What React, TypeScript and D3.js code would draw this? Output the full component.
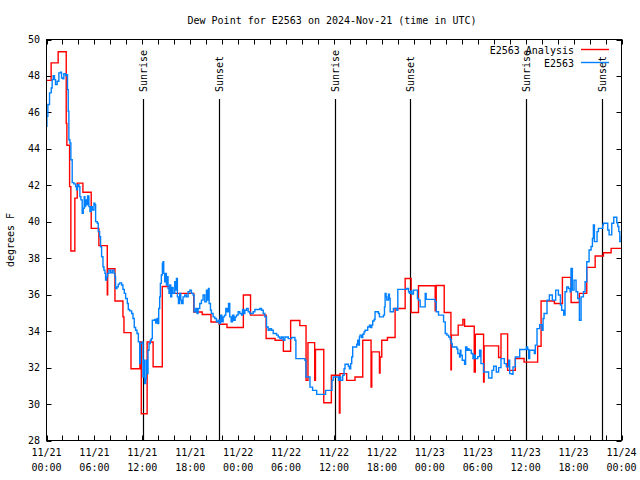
import React from "react";
import * as d3 from "d3";

const titleText = "Dew Point for E2563 on 2024-Nov-21 (time in UTC)";
const yAxisLabel = "degrees F";
const seriesNames = ["E2563 Analysis", "E2563"];
const seriesColors = ["#ff0000", "#0080ff"];

// hours since 2024-11-21 00:00 UTC, dew point in °F
const analysis: [number, number][] = [
  [0, 47.76], [0.58, 48.72], [1.46, 49.33], [2.47, 45.4], [2.55, 44.2], [2.89, 41.93], [3.05, 38.4],
  [3.55, 41.3], [3.85, 42.12], [4.56, 41.62], [5.6, 39.64], [6.56, 38.69], [7.61, 36.0], [7.66, 37.42],
  [8.57, 35.65], [9.57, 34.78], [9.7, 33.92], [10.58, 31.94], [11.7, 33.4], [11.87, 29.47], [12.6, 33.4],
  [13.35, 32.05], [14.5, 36.45], [15.4, 36.07], [18.44, 35.05], [19.5, 34.91], [20.6, 34.5], [21.62, 34.38],
  [22.6, 34.2], [24.65, 35.98], [25.55, 34.88], [27.5, 33.6], [28.62, 33.5], [29.66, 32.9], [30.57, 34.58],
  [31.72, 34.3], [32.5, 31.3], [32.74, 33.37], [33.58, 31.3], [33.68, 32.99], [34.72, 30.07], [35.67, 31.58],
  [36.67, 29.5], [36.75, 31.67], [37.59, 31.3], [38.63, 31.48], [39.6, 33.5], [40.64, 30.93], [40.73, 32.86],
  [41.69, 31.7], [41.77, 32.58], [41.98, 33.5], [42.69, 33.65], [43.65, 35.24], [44.91, 36.89], [45.66, 35.02],
  [46.58, 36.49], [48.67, 35.12], [48.8, 36.5], [49.8, 35.02], [50.64, 31.88], [50.7, 33.78], [51.55, 34.33],
  [52.14, 34.64], [52.35, 34.27], [53.56, 31.76], [53.69, 33.83], [54.73, 31.2], [54.8, 33.19], [56.61, 32.55],
  [56.91, 33.85], [57.74, 31.85], [58.7, 32.5], [59.8, 32.3], [61.5, 33.17], [61.93, 35.65], [63.6, 35.52],
  [64.6, 36.95], [65.69, 35.57], [66.73, 36.07], [67.65, 37.5], [68.7, 38.12], [69.74, 38.3], [70.7, 38.54],
  [72, 38.54],
];

const observed: [number, number][] = [
  [0, 45.24], [0.05, 45.78], [0.17, 46.43], [0.38, 47.07], [0.59, 47.34], [0.71, 47.8], [0.84, 48.02], [1.0, 47.8],
  [1.13, 47.53], [1.34, 47.71], [1.55, 48.17], [1.76, 48.2], [1.88, 47.89], [2.05, 47.84], [2.17, 48.13],
  [2.38, 48.02], [2.51, 48.07], [2.63, 47.25], [2.72, 46.06], [2.8, 44.5], [2.93, 44.32], [3.05, 43.4],
  [3.22, 42.15], [3.43, 42.08], [3.64, 41.93], [3.76, 41.75], [3.89, 42.03], [4.06, 41.93], [4.18, 41.38],
  [4.31, 41.2], [4.47, 40.47], [4.6, 40.74], [4.72, 41.38], [4.81, 40.83], [4.89, 41.2], [5.02, 40.93],
  [5.14, 41.42], [5.31, 40.83], [5.44, 40.56], [5.6, 40.83], [5.73, 40.65], [5.94, 41.02], [6.06, 40.93],
  [6.15, 40.01], [6.36, 39.92], [6.48, 39.46], [6.65, 39.18], [6.77, 38.63], [6.9, 38.08], [7.07, 37.53],
  [7.19, 37.35], [7.32, 37.17], [7.4, 36.8], [7.53, 36.98], [7.65, 37.17], [7.82, 37.35], [8.03, 37.2],
  [8.24, 37.35], [8.45, 37.17], [8.57, 36.98], [8.65, 36.34], [8.82, 36.43], [8.99, 36.58], [9.16, 36.65],
  [9.41, 36.53], [9.57, 36.29], [9.74, 36.07], [9.91, 35.79], [10.12, 35.52], [10.24, 35.19], [10.41, 35.11],
  [10.66, 34.97], [10.83, 34.69], [10.99, 34.2], [11.16, 34.05], [11.33, 33.87], [11.5, 33.41],
  [11.67, 32.22], [11.75, 33.32], [12.0, 33.41], [12.08, 31.48], [12.17, 32.4], [12.29, 31.12], [12.42, 31.39],
  [12.5, 32.4], [12.59, 31.67], [12.71, 32.95], [12.84, 33.32], [13.0, 33.5], [13.13, 33.59], [13.25, 34.6],
  [13.55, 34.64], [13.67, 34.45], [13.84, 34.69], [13.96, 34.42], [14.05, 35.24], [14.17, 35.88], [14.26, 36.62],
  [14.38, 37.08], [14.51, 37.72], [14.59, 37.81], [14.68, 37.17], [14.8, 36.71], [14.93, 37.17], [15.01, 36.53],
  [15.14, 36.98], [15.22, 36.34], [15.35, 36.07], [15.43, 36.53], [15.55, 35.88], [15.68, 36.4], [15.85, 36.07],
  [16.06, 36.71], [16.18, 36.25], [16.27, 36.89], [16.39, 35.88], [16.52, 35.52], [16.68, 36.07], [16.81, 35.7],
  [16.93, 35.52], [17.1, 35.88], [17.31, 35.98], [17.52, 35.88], [17.73, 36.16], [17.94, 36.25], [18.15, 36.07],
  [18.36, 35.98], [18.48, 35.06], [18.69, 35.24], [18.86, 34.97], [18.98, 35.24], [19.19, 35.52], [19.4, 35.7],
  [19.61, 35.98], [19.82, 35.61], [20.03, 36.25], [20.15, 35.7], [20.28, 36.34], [20.36, 35.52], [20.53, 35.15],
  [20.65, 34.97], [20.86, 34.78], [21.07, 34.69], [21.28, 34.51], [21.49, 34.6], [21.62, 34.42], [21.78, 34.88],
  [21.95, 34.51], [22.12, 34.78], [22.29, 34.88], [22.45, 35.24], [22.62, 35.06], [22.79, 35.52], [22.95, 34.78],
  [23.12, 34.51], [23.29, 34.88], [23.46, 34.6], [23.62, 34.78], [23.79, 34.88], [24.0, 35.06], [24.21, 34.97],
  [24.42, 34.88], [24.54, 35.19], [24.71, 34.97], [24.84, 35.15], [25.05, 35.24], [25.25, 35.06], [25.46, 34.97],
  [25.88, 35.06], [26.09, 35.19], [26.51, 35.19], [26.72, 35.24], [26.93, 35.15], [27.14, 34.97], [27.34, 34.78],
  [27.55, 34.23], [27.76, 34.05], [27.97, 34.14], [28.18, 34.05], [28.39, 33.87], [28.81, 33.78], [29.02, 33.68],
  [29.23, 33.59], [29.44, 33.68], [29.64, 33.5], [29.85, 33.68], [30.27, 33.59], [30.69, 33.65], [31.11, 33.5],
  [31.23, 32.49], [32.36, 32.4], [32.49, 31.48], [32.99, 30.93], [33.32, 30.75], [33.83, 30.53], [34.95, 30.75],
  [35.75, 31.3], [35.9, 31.48],
  [36.34, 31.48], [36.55, 31.3], [36.67, 31.48], [36.84, 31.3], [37.09, 31.58], [37.26, 31.94], [37.38, 32.18],
  [37.8, 32.07], [37.93, 31.94], [38.09, 32.22], [38.22, 32.58], [38.34, 33.13], [38.84, 33.28], [38.97, 33.5],
  [39.05, 33.23], [39.18, 33.68], [39.26, 33.78], [39.47, 33.65], [39.6, 33.83], [39.76, 33.96], [39.89, 34.05],
  [40.22, 34.23], [40.43, 34.33], [40.6, 34.2], [40.73, 34.33], [40.85, 34.56], [41.02, 34.64], [41.14, 35.06],
  [41.56, 34.97], [41.69, 34.78], [42.19, 34.88], [42.32, 35.33], [42.4, 36.07], [42.52, 35.88], [42.61, 35.7],
  [42.82, 36.03], [42.94, 35.79], [43.03, 35.06], [43.44, 35.24], [43.86, 35.15], [43.99, 36.29], [45.12, 36.34],
  [45.33, 36.16], [45.45, 36.07], [45.62, 36.2], [45.74, 36.03], [45.95, 36.25], [46.45, 35.79], [46.58, 35.7],
  [46.79, 35.33], [47.42, 36.07], [47.54, 35.74], [48.67, 35.61],
  [48.8, 35.06], [49.09, 34.88], [49.72, 34.51], [49.93, 33.87], [50.13, 33.78], [50.35, 33.68], [50.55, 33.54],
  [50.68, 33.32], [50.8, 33.13], [51.39, 33.02], [51.51, 32.77], [51.72, 32.58], [51.81, 32.95], [51.89, 32.68],
  [52.06, 32.4], [52.35, 32.18], [52.48, 33.13], [52.64, 32.95], [52.77, 33.04], [52.9, 32.95], [53.06, 32.95],
  [53.19, 32.77], [53.4, 32.49], [53.53, 32.68], [53.69, 32.49], [54.0, 32.6], [54.23, 32.95], [54.4, 32.22],
  [54.65, 32.22], [54.73, 31.76], [55.36, 31.43], [55.78, 31.85], [55.99, 32.07], [56.32, 31.76], [56.62, 32.0],
  [56.91, 32.49], [57.33, 32.22], [57.58, 32.04], [57.87, 32.4], [58.0, 31.67], [58.29, 31.63], [58.41, 32.04],
  [58.71, 32.58], [59.25, 32.99], [60.09, 33.13], [60.25, 32.99], [60.38, 32.49], [60.5, 32.95], [61.09, 32.77],
  [61.21, 33.23], [61.42, 34.14], [61.76, 34.36], [62.05, 34.05], [62.18, 34.69], [62.3, 34.97],
  [62.67, 35.7], [62.97, 35.98], [63.34, 35.7], [63.76, 36.25], [64.1, 35.98], [64.35, 35.43], [64.51, 35.15],
  [64.76, 34.88], [64.93, 36.16], [65.14, 36.43], [65.35, 36.34], [65.56, 36.16], [65.68, 37.44], [65.85, 36.25],
  [66.06, 36.8], [66.31, 36.16], [66.52, 35.79], [66.73, 34.6], [66.94, 35.88], [67.23, 36.16], [67.44, 36.71],
  [67.65, 37.81], [67.94, 38.45], [68.19, 38.64], [68.36, 39.09], [68.48, 39.83], [68.61, 38.91], [68.94, 39.46],
  [69.11, 39.64], [69.66, 39.83], [69.74, 39.92], [70.16, 39.92], [70.28, 39.55], [70.45, 39.28], [70.78, 39.92],
  [71.03, 40.25], [71.29, 40.25], [71.41, 39.95], [71.54, 39.74], [71.66, 39.46], [71.79, 38.91], [72.0, 39.2],
];

const sunEventHours = [12.12, 21.64, 36.16, 45.55, 60.08, 69.6];
const sunEventNames = ["Sunrise", "Sunset", "Sunrise", "Sunset", "Sunrise", "Sunset"];

const yTickValues = [28, 30, 32, 34, 36, 38, 40, 42, 44, 46, 48, 50];
const xMajorHours = [0, 6, 12, 18, 24, 30, 36, 42, 48, 54, 60, 66, 72];
const xDateLabels = ["11/21", "11/21", "11/21", "11/21", "11/22", "11/22", "11/22", "11/22", "11/23", "11/23", "11/23", "11/23", "11/24"];
const xTimeLabels = ["00:00", "06:00", "12:00", "18:00", "00:00", "06:00", "12:00", "18:00", "00:00", "06:00", "12:00", "18:00", "00:00"];
const xMinorHours = d3.range(0, 73, 2);

const FONT = "'DejaVu Sans Mono', 'Liberation Mono', monospace";

export default function App() {
  const left = 46.5, right = 621.5, top = 39.5, bottom = 440.5;
  const x = d3.scaleLinear().domain([0, 72]).range([left, right]);
  const y = d3.scaleLinear().domain([28, 50]).range([bottom, top]);
  const line = d3
    .line<[number, number]>()
    .x((d) => x(d[0]))
    .y((d) => y(d[1]))
    .curve(d3.curveStepAfter);
  const tick = 5;

  return (
    <svg width={640} height={480} style={{ display: "block", position: "absolute", left: 0, top: 0, background: "#fff" }}
      fontFamily={FONT} fontSize={10}>
      <rect x={0} y={0} width={640} height={480} fill="#fff" />
      <defs>
        <clipPath id="plotclip">
          <rect x={left} y={top} width={right - left} height={bottom - top} />
        </clipPath>
      </defs>
      <text x={332} y={23.5} textAnchor="middle" fill="#000">{titleText}</text>

      {/* y ticks and labels */}
      {yTickValues.map((v) => (
        <g key={"y" + v}>
          <line x1={left} x2={left + tick} y1={Math.round(y(v)) + 0.5} y2={Math.round(y(v)) + 0.5} stroke="#000" />
          <line x1={right} x2={right - tick} y1={Math.round(y(v)) + 0.5} y2={Math.round(y(v)) + 0.5} stroke="#000" />
          <text x={40} y={y(v) + 3.5} textAnchor="end" fill="#000">{v}</text>
        </g>
      ))}

      {/* x ticks */}
      {xMinorHours.map((h) => (
        <g key={"xt" + h}>
          <line x1={Math.round(x(h)) + 0.5} x2={Math.round(x(h)) + 0.5} y1={bottom} y2={bottom - tick} stroke="#000" />
          <line x1={Math.round(x(h)) + 0.5} x2={Math.round(x(h)) + 0.5} y1={top} y2={top + tick} stroke="#000" />
        </g>
      ))}
      {xMajorHours.map((h, i) => (
        <g key={"xl" + h}>
          <text x={x(h)} y={456} textAnchor="middle" fill="#000">{xDateLabels[i]}</text>
          <text x={x(h)} y={471} textAnchor="middle" fill="#000">{xTimeLabels[i]}</text>
        </g>
      ))}

      <text transform={`translate(10,240) rotate(-90)`} textAnchor="middle" dominantBaseline="central" fill="#000">
        {yAxisLabel}
      </text>

      {/* sunrise / sunset markers */}
      {sunEventHours.map((h, i) => {
        const px = Math.round(x(h)) + 0.5;
        return (
          <g key={"sun" + i}>
            <line x1={px} x2={px} y1={99} y2={bottom} stroke="#000" strokeWidth={1.2} />
            <text transform={`translate(${px},92) rotate(-90)`} textAnchor="start" dominantBaseline="central" fill="#000">
              {sunEventNames[i]}
            </text>
          </g>
        );
      })}

      <g clipPath="url(#plotclip)">
        <path d={line(analysis) || ""} fill="none" stroke={seriesColors[0]} strokeWidth={1.4} />
        <path d={line(observed) || ""} fill="none" stroke={seriesColors[1]} strokeWidth={1.4} />
      </g>

      {/* legend */}
      <text x={574} y={53.5} textAnchor="end" fill="#000">{seriesNames[0]}</text>
      <line x1={581} x2={609} y1={49.5} y2={49.5} stroke={seriesColors[0]} strokeWidth={1.4} />
      <text x={574} y={66.5} textAnchor="end" fill="#000">{seriesNames[1]}</text>
      <line x1={581} x2={609} y1={62.5} y2={62.5} stroke={seriesColors[1]} strokeWidth={1.4} />

      <rect x={left} y={top} width={right - left} height={bottom - top} fill="none" stroke="#000" />
    </svg>
  );
}
